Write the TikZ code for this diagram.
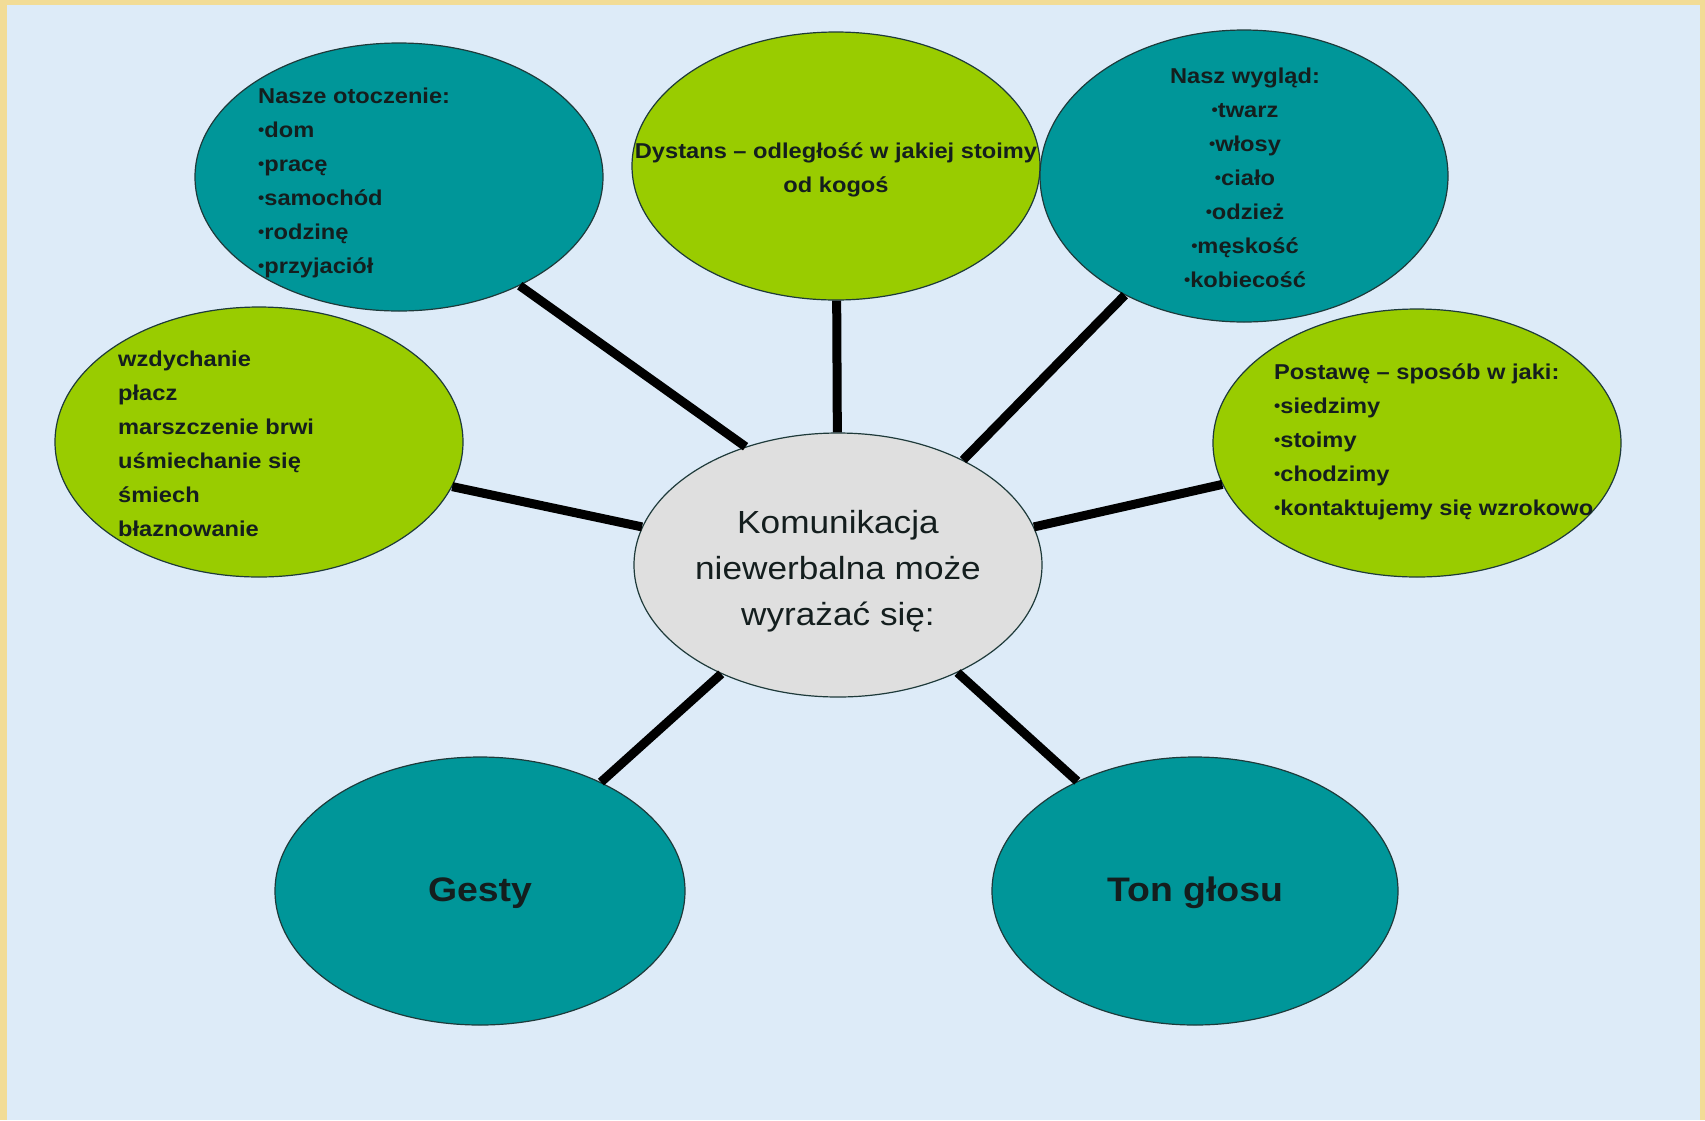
\documentclass[tikz,border=0pt]{standalone}
\usepackage{fontspec}
\setmainfont{Liberation Sans}[FakeStretch=1.1]
\usetikzlibrary{shapes.geometric}
\definecolor{frameGold}{HTML}{F2DC96}
\definecolor{paperBlue}{HTML}{DDEBF8}
\definecolor{bubbleTeal}{HTML}{009699}
\definecolor{bubbleLime}{HTML}{99CC00}
\definecolor{hubGrey}{HTML}{DFDFDF}
\definecolor{bubbleLine}{HTML}{1E3A3A}
\definecolor{inkDark}{HTML}{141E1E}
\newcommand\listdot{\raisebox{.09em}{\scalebox{.75}{•}}}

\begin{document}
\begin{tikzpicture}[
  x=1pt, y=-1pt,
  bubble/.style={
    ellipse,
    draw=bubbleLine,
    line width=1.2pt,
    inner sep=0pt,
    minimum width=408pt,
    minimum height=268pt,
  },
  teal bubble/.style={bubble, fill=bubbleTeal},
  lime bubble/.style={bubble, fill=bubbleLime},
  hub bubble/.style={bubble, fill=hubGrey},
  list text/.style={
    inner sep=0pt,
    text=inkDark,
    font=\fontsize{21.5}{34}\selectfont\bfseries,
  },
  hub text/.style={
    inner sep=0pt,
    text=inkDark,
    align=center,
    font=\fontsize{32}{46}\selectfont,
  },
  big text/.style={
    inner sep=0pt,
    text=inkDark,
    font=\fontsize{34}{40}\selectfont\bfseries,
  },
  spoke/.style={
    draw=black,
    line width=9pt,
  }
]
\useasboundingbox (0,0) rectangle (1705,1120);
\fill[frameGold] (0,0) rectangle (1705,1120);
\fill[paperBlue] (7,5) rectangle (1700,1120);

% bubbles
\node[teal bubble] (otocz) at (399,177) {};
\node[lime bubble] (dyst) at (836,166) {};
\node[teal bubble, minimum height=292pt] (wyglad) at (1244,176) {};
\node[lime bubble, minimum height=270pt] (wzdych) at (259,442) {};
\node[lime bubble] (postawa) at (1417,443) {};
\node[hub bubble, minimum height=264pt] (hub) at (838,565) {};
\node[teal bubble, minimum width=410pt] (gesty) at (480,891) {};
\node[teal bubble, minimum width=406pt] (ton) at (1195,891) {};

% texts
\node[list text, align=left, anchor=west] (otoczT) at (258,183)
  {Nasze otoczenie:\\\listdot dom\\\listdot pracę\\\listdot samochód\\\listdot rodzinę\\\listdot przyjaciół};
\node[list text, align=center] (dystT) at (836,170)
  {Dystans – odległość w jakiej stoimy\\od kogoś};
\node[list text, align=center] (wygladT) at (1245,178)
  {Nasz wygląd:\\\listdot twarz\\\listdot włosy\\\listdot ciało\\\listdot odzież\\\listdot męskość\\\listdot kobiecość};
\node[list text, align=left, anchor=west] (wzdychT) at (118,444)
  {wzdychanie\\płacz\\marszczenie brwi\\uśmiechanie się\\śmiech\\błaznowanie};
\node[list text, align=left, anchor=west] (postawaT) at (1274,442)
  {Postawę – sposób w jaki:\\\listdot siedzimy\\\listdot stoimy\\\listdot chodzimy\\\listdot kontaktujemy się wzrokowo};
\node[hub text] (hubT) at (838,571)
  {Komunikacja\\niewerbalna może\\wyrażać się:};
\node[big text] (gestyT) at (480,893) {Gesty};
\node[big text] (tonT) at (1195,893) {Ton głosu};

% spokes
\foreach \a/\b in {otocz.-42/hub.128, dyst/hub, wyglad.225/hub.40,
                   wzdych.-13/hub.169, postawa.192/hub.11,
                   hub.223/gesty.42, hub.-42/ton.137} {
  \draw[spoke] (\a) -- (\b);
}
\end{tikzpicture}
\end{document}
